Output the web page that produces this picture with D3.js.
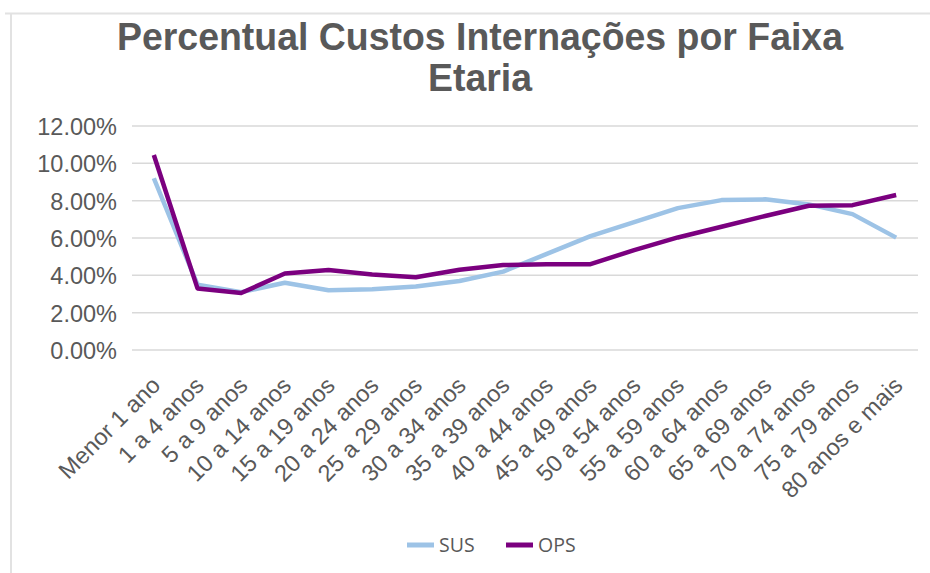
<!DOCTYPE html>
<html>
<head>
<meta charset="utf-8">
<script src="https://cdn.jsdelivr.net/npm/d3@7"></script>
<style>
  body { margin: 0; background: #fff; }
  svg { display: block; }
</style>
</head>
<body>
<div id="chart"></div>
<script>
// Chart data
const categories = ["Menor 1 ano", "1 a 4 anos", "5 a 9 anos", "10 a 14 anos", "15 a 19 anos",
    "20 a 24 anos", "25 a 29 anos", "30 a 34 anos", "35 a 39 anos", "40 a 44 anos",
    "45 a 49 anos", "50 a 54 anos", "55 a 59 anos", "60 a 64 anos", "65 a 69 anos",
    "70 a 74 anos", "75 a 79 anos", "80 anos e mais"];
const susValues = [0.092, 0.035, 0.031, 0.036, 0.032, 0.0325, 0.034, 0.037, 0.042, 0.0515,
    0.061, 0.0685, 0.076, 0.0803, 0.0807, 0.078, 0.0728, 0.0602];
const opsValues = [0.1045, 0.033, 0.0305, 0.041, 0.0428, 0.0405, 0.039, 0.043, 0.0455, 0.046,
    0.046, 0.0535, 0.0603, 0.066, 0.0718, 0.0773, 0.0776, 0.083];
const yTicks = [0, 0.02, 0.04, 0.06, 0.08, 0.10, 0.12];
const seriesNames = ["SUS", "OPS"];

const width = 930;
const height = 573;
const margin = ({ top: 126, right: 12, bottom: 223, left: 132 });
const textColor = "#595959";
const gridColor = "#d9d9d9";
const colors = { SUS: "#9dc3e6", OPS: "#7b007f" };
const tickFont = "23.5px";

const svg = d3.select("#chart").append("svg")
    .attr("width", width)
    .attr("height", height);

// frame of the chart area (only top and left edges visible)
svg.append("line")
    .attr("x1", 5).attr("x2", width).attr("y1", 13.5).attr("y2", 13.5)
    .attr("stroke", "#e2e2e2").attr("stroke-width", 2);
svg.append("line")
    .attr("x1", 11).attr("x2", 11).attr("y1", 13.5).attr("y2", height)
    .attr("stroke", "#e2e2e2").attr("stroke-width", 2);

// Title
const title = svg.append("g")
    .attr("transform", "translate(480,0) scale(0.96,1)");
title.selectAll("text")
    .data(["Percentual Custos Internações por Faixa", "Etaria"])
    .enter().append("text")
    .attr("x", 0)
    .attr("y", (d, i) => 50 + i * 41)
    .attr("text-anchor", "middle")
    .attr("font-family", "Liberation Sans, Arial, sans-serif")
    .attr("font-weight", "bold")
    .attr("font-size", "39px")
    .attr("fill", textColor)
    .text(d => d);

const xScale = d3.scaleBand()
    .domain(categories)
    .range([margin.left, width - margin.right])
    .paddingInner(0)
    .paddingOuter(0);

const yScale = d3.scaleLinear()
    .domain([0, 0.12])
    .range([height - margin.bottom, margin.top]);

const xPos = d => xScale(d) + xScale.bandwidth() / 2;

// gridlines
svg.append("g")
    .selectAll("line")
    .data(yTicks)
    .enter().append("line")
    .attr("x1", margin.left)
    .attr("x2", width - margin.right)
    .attr("y1", d => yScale(d))
    .attr("y2", d => yScale(d))
    .attr("stroke", gridColor)
    .attr("stroke-width", 1.5);

// y axis labels
const yAxis = g => g
    .attr("transform", `translate(${margin.left - 12}, 0)`)
    .call(d3.axisLeft(yScale)
        .tickValues(yTicks)
        .tickSize(0)
        .tickFormat(d3.format(".2%")))
    .call(g => g.select(".domain").remove())
    .call(g => g.selectAll("text")
        .attr("fill", textColor)
        .attr("font-family", "Liberation Sans, Arial, sans-serif")
        .attr("font-size", tickFont)
        .attr("dy", "0.36em"));
svg.append("g").call(yAxis);

// x axis labels, rotated
const xAxis = g => g
    .attr("transform", `translate(0, ${height - margin.bottom})`)
    .call(d3.axisBottom(xScale).tickSize(0))
    .call(g => g.select(".domain").remove())
    .call(g => g.selectAll("text")
        .attr("fill", textColor)
        .attr("font-family", "Liberation Sans, Arial, sans-serif")
        .attr("font-size", tickFont)
        .attr("text-anchor", "end")
        .attr("transform", "translate(2, 31) rotate(-45)")
        .attr("y", 0)
        .attr("dy", "0.35em"));
svg.append("g").call(xAxis);

// lines
const line = d3.line()
    .x((d, i) => xPos(categories[i]))
    .y(d => yScale(d));

const series = [
    { name: "SUS", values: susValues },
    { name: "OPS", values: opsValues }
];

svg.append("g")
    .selectAll("path")
    .data(series)
    .enter().append("path")
    .attr("d", d => line(d.values))
    .attr("fill", "none")
    .attr("stroke", d => colors[d.name])
    .attr("stroke-width", 4.5)
    .attr("stroke-linejoin", "round");

// legend
const legend = svg.append("g")
    .attr("transform", "translate(407, 545)");
const legendItems = legend.selectAll("g")
    .data(seriesNames)
    .enter().append("g")
    .attr("transform", (d, i) => `translate(${i * 99}, 0)`);
legendItems.append("line")
    .attr("x1", 0).attr("x2", 27)
    .attr("y1", 0).attr("y2", 0)
    .attr("stroke", d => colors[d])
    .attr("stroke-width", 5);
legendItems.append("text")
    .attr("x", 32)
    .attr("y", 0)
    .attr("dy", "0.36em")
    .attr("font-family", "Open Sans, sans-serif")
    .attr("font-size", "19.5px")
    .attr("fill", textColor)
    .text(d => d);
</script>
</body>
</html>
